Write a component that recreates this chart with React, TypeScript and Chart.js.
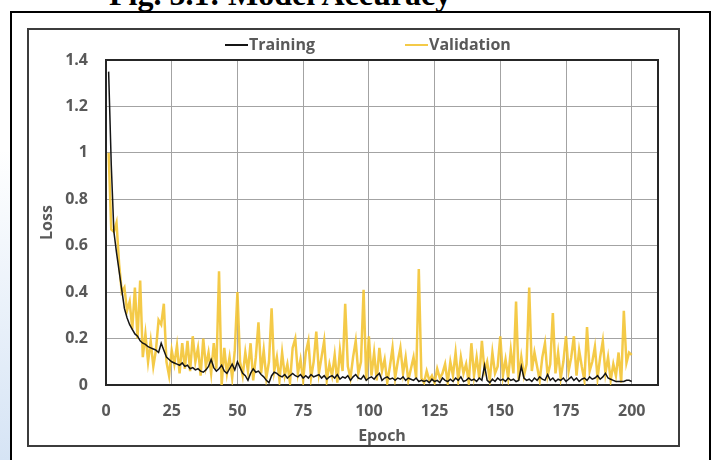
import React, { useEffect, useRef } from "react";
import { Chart, registerables } from "chart.js";

Chart.register(...registerables);

// ---- data ----
const firstEpoch = 1;
const xTicks = [0, 25, 50, 75, 100, 125, 150, 175, 200];
const yTicks = [0, 0.2, 0.4, 0.6, 0.8, 1, 1.2, 1.4];
const yTickLabels = ["0", "0.2", "0.4", "0.6", "0.8", "1", "1.2", "1.4"];
const seriesNames = ["Training", "Validation"];

const training = [
  1.35, 0.95, 0.66, 0.57, 0.49, 0.41, 0.33, 0.29, 0.26, 0.24,
  0.22, 0.21, 0.19, 0.18, 0.175, 0.165, 0.16, 0.155, 0.15, 0.14,
  0.18, 0.15, 0.12, 0.11, 0.1, 0.095, 0.09, 0.085, 0.095, 0.08,
  0.085, 0.07, 0.075, 0.065, 0.07, 0.06, 0.055, 0.065, 0.08, 0.11,
  0.075, 0.06, 0.07, 0.085, 0.06, 0.05, 0.07, 0.09, 0.065, 0.1,
  0.075, 0.05, 0.04, 0.02, 0.05, 0.07, 0.055, 0.06, 0.045, 0.035,
  0.02, 0.01, 0.04, 0.055, 0.05, 0.04, 0.035, 0.045, 0.03, 0.04,
  0.05, 0.04, 0.035, 0.045, 0.03, 0.04, 0.03, 0.045, 0.035, 0.04,
  0.045, 0.03, 0.04, 0.025, 0.035, 0.04, 0.03, 0.045, 0.025, 0.035,
  0.03, 0.04, 0.02, 0.035, 0.045, 0.03, 0.025, 0.04, 0.02, 0.03,
  0.035, 0.025, 0.04, 0.05, 0.02, 0.03, 0.035, 0.025, 0.03, 0.02,
  0.03, 0.025, 0.035, 0.02, 0.03, 0.025, 0.02, 0.03, 0.015, 0.02,
  0.015, 0.02, 0.01, 0.025, 0.015, 0.02, 0.01, 0.03, 0.02, 0.015,
  0.025, 0.015, 0.03, 0.02, 0.035, 0.015, 0.02, 0.03, 0.02, 0.025,
  0.015, 0.03, 0.02, 0.085, 0.02, 0.01, 0.025, 0.015, 0.03, 0.02,
  0.025, 0.015, 0.03, 0.02, 0.025, 0.015, 0.02, 0.08, 0.03, 0.02,
  0.025, 0.015, 0.03, 0.02, 0.035, 0.025, 0.02, 0.045, 0.02, 0.03,
  0.015, 0.025, 0.02, 0.03, 0.015, 0.025, 0.035, 0.02, 0.03, 0.015,
  0.025, 0.03, 0.02, 0.035, 0.025, 0.03, 0.04, 0.025, 0.035, 0.05,
  0.03, 0.025, 0.02, 0.015, 0.015, 0.015, 0.015, 0.02, 0.02, 0.015,
];

const validation = [
  1.0, 0.67, 0.66, 0.7, 0.52, 0.4, 0.42, 0.32, 0.36, 0.24,
  0.42, 0.2, 0.45, 0.12, 0.22, 0.1, 0.19, 0.08, 0.15, 0.28,
  0.26, 0.35, 0.1, 0.04, 0.15, 0.09, 0.17, 0.05, 0.18, 0.07,
  0.19, 0.06, 0.21, 0.1, 0.16, 0.04, 0.2, 0.08, 0.14, 0.05,
  0.18, 0.07, 0.49, 0.0, 0.16, 0.05, 0.12, 0.03, 0.15, 0.4,
  0.1, 0.04, 0.14, 0.06, 0.18, 0.02, 0.12, 0.27, 0.05, 0.15,
  0.03, 0.1, 0.33, 0.06, 0.12, 0.02, 0.14, 0.04, 0.09, 0.01,
  0.16, 0.2, 0.05, 0.11, 0.02, 0.14, 0.19, 0.03, 0.1, 0.23,
  0.05, 0.12, 0.19, 0.02, 0.09, 0.04, 0.13, 0.01, 0.15, 0.06,
  0.35, 0.08, 0.03, 0.12, 0.19, 0.05, 0.1, 0.41, 0.02, 0.21,
  0.04, 0.14, 0.02, 0.16, 0.06, 0.11, 0.01, 0.08, 0.16, 0.03,
  0.1, 0.16, 0.05, 0.12, 0.02, 0.07, 0.12, 0.03, 0.5, 0.03,
  0.01, 0.06, 0.02, 0.04, 0.01, 0.07, 0.03, 0.05, 0.09, 0.01,
  0.1, 0.04, 0.14, 0.02, 0.12, 0.05, 0.09, 0.01, 0.18, 0.04,
  0.12, 0.03, 0.19, 0.06, 0.1, 0.02, 0.14, 0.05, 0.08, 0.21,
  0.04, 0.11, 0.03, 0.15, 0.05, 0.36, 0.02, 0.12, 0.04, 0.09,
  0.42, 0.06, 0.14, 0.08, 0.02, 0.12, 0.18, 0.04, 0.09, 0.31,
  0.05, 0.14, 0.03, 0.1, 0.21, 0.06, 0.12, 0.21, 0.04, 0.15,
  0.08, 0.02, 0.25, 0.06, 0.1, 0.165, 0.03, 0.12, 0.19, 0.05,
  0.12, 0.02, 0.09, 0.04, 0.14, 0.01, 0.32, 0.095, 0.14, 0.13,
];

// ---- styles ----
const FONT_FAMILY = "'Open Sans', Lato, sans-serif";
const FONT_SIZE = 16;
const TEXT_COLOR = "#595959";
const TRAIN_COLOR = "#151515";
const VAL_COLOR = "rgba(243, 196, 52, 0.9)";

const legendPlugin = {
  id: "excelLegend",
  afterDraw(chart: any) {
    const ctx = chart.ctx;
    const y = 45;
    const starts = [225, 405];
    ctx.save();
    ctx.font = `bold ${FONT_SIZE}px ${FONT_FAMILY}`;
    ctx.textBaseline = "middle";
    ctx.textAlign = "left";
    chart.data.datasets.forEach((ds: any, i: number) => {
      const x = starts[i];
      ctx.strokeStyle = ds.borderColor;
      ctx.lineWidth = 2;
      ctx.beginPath();
      ctx.moveTo(x, y);
      ctx.lineTo(x + 23, y);
      ctx.stroke();
      ctx.fillStyle = TEXT_COLOR;
      ctx.fillText(ds.label, x + 24, y);
    });
    ctx.restore();
  },
};

const framePlugin = {
  id: "plotFrame",
  beforeDatasetsDraw(chart: any) {
    const { ctx, chartArea } = chart;
    ctx.save();
    ctx.strokeStyle = "#262626";
    ctx.lineWidth = 2;
    ctx.strokeRect(
      chartArea.left,
      chartArea.top,
      chartArea.right - chartArea.left,
      chartArea.bottom - chartArea.top
    );
    ctx.restore();
  },
};

export default function App() {
  const canvasRef = useRef<HTMLCanvasElement | null>(null);

  useEffect(() => {
    document.body.style.margin = "0";
    const canvas = canvasRef.current;
    if (!canvas) return;
    const font = { family: FONT_FAMILY, size: FONT_SIZE, weight: "bold" as const };
    const chart = new Chart(canvas, {
      type: "line",
      data: {
        datasets: [
          {
            label: seriesNames[0],
            data: training.map((v, i) => ({ x: firstEpoch + i, y: v })),
            borderColor: TRAIN_COLOR,
            backgroundColor: TRAIN_COLOR,
            borderWidth: 1.5,
            pointRadius: 0,
            tension: 0,
          },
          {
            label: seriesNames[1],
            data: validation.map((v, i) => ({ x: firstEpoch + i, y: v })),
            borderColor: VAL_COLOR,
            backgroundColor: VAL_COLOR,
            borderWidth: 2.5,
            pointRadius: 0,
            tension: 0,
          },
        ],
      },
      options: {
        animation: false,
        responsive: false,
        maintainAspectRatio: false,
        events: [],
        layout: { padding: { left: 28, right: 56, top: 60, bottom: 14 } },
        plugins: {
          legend: { display: false },
          tooltip: { enabled: false },
        },
        scales: {
          x: {
            type: "linear",
            min: 0,
            max: 210,
            afterBuildTicks: (axis: any) => {
              axis.ticks = xTicks.map((v) => ({ value: v }));
            },
            afterFit: (axis: any) => {
              axis.height = 61;
            },
            grid: { color: "#a3a3a3", lineWidth: 1, drawTicks: false },
            border: { display: false },
            ticks: {
              padding: 17,
              font,
              color: TEXT_COLOR,
              maxRotation: 0,
              autoSkip: false,
            },
            title: {
              display: true,
              text: "Epoch",
              font,
              color: TEXT_COLOR,
              padding: { top: 0, bottom: 0 },
            },
          },
          y: {
            type: "linear",
            min: 0,
            max: 1.4,
            afterBuildTicks: (axis: any) => {
              axis.ticks = yTicks.map((v) => ({ value: v }));
            },
            afterFit: (axis: any) => {
              axis.width = 78;
            },
            grid: { color: "#a3a3a3", lineWidth: 1, drawTicks: false },
            border: { display: false },
            ticks: {
              padding: 18,
              font,
              color: TEXT_COLOR,
              autoSkip: false,
              callback: (_v: any, i: number) => yTickLabels[i],
            },
            title: {
              display: true,
              text: "Loss",
              font,
              color: TEXT_COLOR,
              padding: { top: 10, bottom: 0 },
            },
          },
        },
      },
      plugins: [framePlugin, legendPlugin],
    });
    return () => chart.destroy();
  }, []);

  return (
    <div
      style={{
        position: "relative",
        width: 714,
        height: 460,
        overflow: "hidden",
        background: "#ffffff",
      }}
    >
      <div
        style={{
          position: "absolute",
          left: 0,
          top: 150,
          width: 10,
          height: 310,
          background:
            "linear-gradient(to bottom, rgba(214,228,245,0), rgba(214,228,245,1))",
        }}
      />
      <div
        style={{
          position: "absolute",
          left: 109,
          top: -22,
          fontFamily: "'Liberation Serif', 'Times New Roman', serif",
          fontWeight: "bold",
          fontSize: 32,
          lineHeight: "32px",
          whiteSpace: "nowrap",
          color: "#000",
        }}
      >
        Fig. 5.1: Model Accuracy
      </div>
      <div
        style={{
          position: "absolute",
          left: 10,
          top: 11,
          width: 701,
          height: 470,
          border: "2px solid #000",
          boxSizing: "border-box",
        }}
      />
      <div
        style={{
          position: "absolute",
          left: 27,
          top: 28,
          width: 653,
          height: 419,
          border: "2px solid #3c3c3c",
          boxSizing: "border-box",
        }}
      />
      <canvas
        ref={canvasRef}
        width={714}
        height={460}
        style={{ position: "absolute", left: 0, top: 0, width: 714, height: 460 }}
      />
    </div>
  );
}
